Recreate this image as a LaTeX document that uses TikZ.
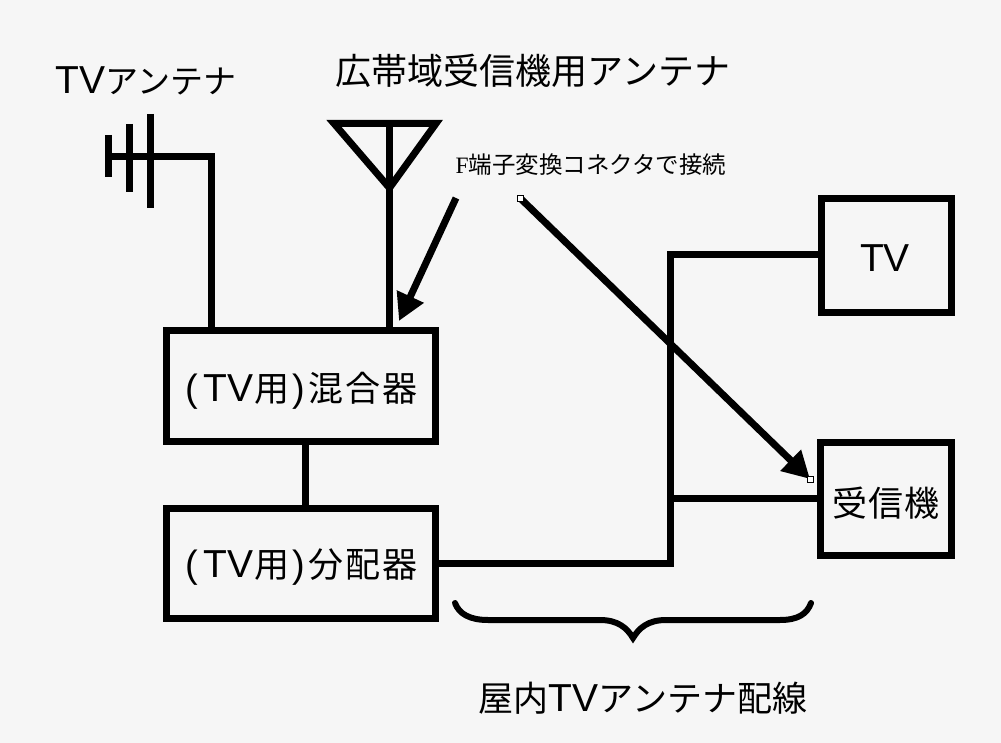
\documentclass[tikz,border=0pt]{standalone}
\usepackage{fontspec}
\setmainfont{Noto Sans CJK JP}
\newfontfamily\serifF{Liberation Serif}
\newfontfamily\latin{Liberation Sans}
\newcommand{\TVword}{{\latin\fontsize{39}{39}\selectfont TV}}
\newcommand{\paren}[1]{{\latin\fontsize{38}{38}\selectfont #1}}
\usetikzlibrary{arrows.meta}
\definecolor{paper}{HTML}{F6F6F6}
\tikzset{
  wire/.style={draw=black,line width=7pt},
  wirethin/.style={draw=black,line width=6pt,line cap=round},
  box/.style={draw=black,line width=7pt,fill=none,inner sep=0pt,outer sep=0pt,anchor=north west},
  mid/.style={inner sep=0pt,text=black},
  big/.style={mid,font=\fontsize{35}{35}\selectfont},
  lead/.style={draw=black,line width=7pt,-{Triangle[length=27pt,width=28pt]},shorten >=0pt},
  handle/.style={draw=black,line width=0.8pt,fill=white,minimum size=6pt,inner sep=0pt}
}
\begin{document}
\begin{tikzpicture}[x=1pt,y=-1pt]
\useasboundingbox[fill=paper] (0,0) rectangle (1001,743);
% boxes
\node[box,minimum width=269pt,minimum height=111pt] (mix) at (166.5,330) {};
\node[box,minimum width=269pt,minimum height=110pt] (split) at (166.5,508.5) {};
\node[box,minimum width=130pt,minimum height=113pt] (tv) at (821,199) {};
\node[box,minimum width=131pt,minimum height=113pt] (rx) at (820.5,442.5) {};
\node[big] (mixt) at (301.5,391) {\paren{(}\kern5pt\TVword\kern1pt 用\kern3pt\paren{)}\kern3pt 混\kern2pt 合\kern2pt 器};
\node[big] (splitt) at (301.5,567) {\paren{(}\kern5pt\TVword\kern1pt 用\kern3pt\paren{)}\kern3pt 分\kern2pt 配\kern2pt 器};
\node[big] (tvt) at (885,258) {\TVword};
\node[big] (rxt) at (886,503) {受\kern1pt 信\kern1pt 機};
% titles
\node[mid,font=\fontsize{33}{33}\selectfont] (ttv) at (146,81) {\TVword アンテナ};
\node[mid,font=\fontsize{36}{36}\selectfont] (twide) at (533,71) {広帯域受信機用アンテナ};
\node[mid,font=\fontsize{23.5}{23.5}\selectfont] (tf) at (591,165) {{\serifF F}端子変換コネクタで接続};
\node[big] (tin) at (643,698) {屋内\TVword アンテナ配線};
% named points
\coordinate (yagiL) at (105,156.5);
\coordinate (yagiC) at (211.5,156.5);
\coordinate (a1t) at (108.5,135); \coordinate (a1b) at (108.5,177);
\coordinate (a2t) at (129.5,124); \coordinate (a2b) at (129.5,192);
\coordinate (a3t) at (150.5,114); \coordinate (a3b) at (150.5,208);
\coordinate (mixa) at (211.5,330);
\coordinate (mixb) at (389.5,330);
\coordinate (triL) at (334,123.5);
\coordinate (triR) at (436,123.5);
\coordinate (triB) at (389.5,188);
\coordinate (triT) at (389.5,123.5);
\coordinate (link) at (305,470);
\coordinate (j1) at (670.5,563);
\coordinate (j2) at (670.5,255);
\coordinate (j3) at (670.5,498.5);
\coordinate (s1) at (456,198);
\coordinate (e1) at (399,321);
\coordinate (s2) at (520,198);
\coordinate (e2) at (810,479);
% antennas
\draw[wire] (yagiL) -- (yagiC) -- (mixa);
\draw[wire] (a1t) -- (a1b);
\draw[wire] (a2t) -- (a2b);
\draw[wire] (a3t) -- (a3b);
\draw[wire,line join=miter] (triT) -- (triL) -- (triB) -- (triR) -- cycle;
\draw[wire] (triT) -- (mixb);
% wiring
\draw[wire] (link |- mix.south) -- (link |- split.north);
\draw[wire,line join=miter] (split.east |- j1) -- (j1) -- (j2) -- (tv.west |- j2);
\draw[wire] (j3) -- (rx.west |- j3);
% leaders
\draw[lead] (s1) -- (e1);
\draw[lead] (s2) -- (e2);
\node[handle] (h1) at (s2) {};
\node[handle] (h2) at (e2) {};
% brace
\coordinate (bl) at (455,603);
\coordinate (br) at (811,603);
\coordinate (bm) at (633,638);
\draw[wirethin] (bl) .. controls (459,614) and (470,620) .. (488,620) -- (600,620) .. controls (618,620) and (627,628) .. (bm) .. controls (639,628) and (648,620) .. (666,620) -- (780,620) .. controls (798,620) and (807,614) .. (br);
\end{tikzpicture}
\end{document}
